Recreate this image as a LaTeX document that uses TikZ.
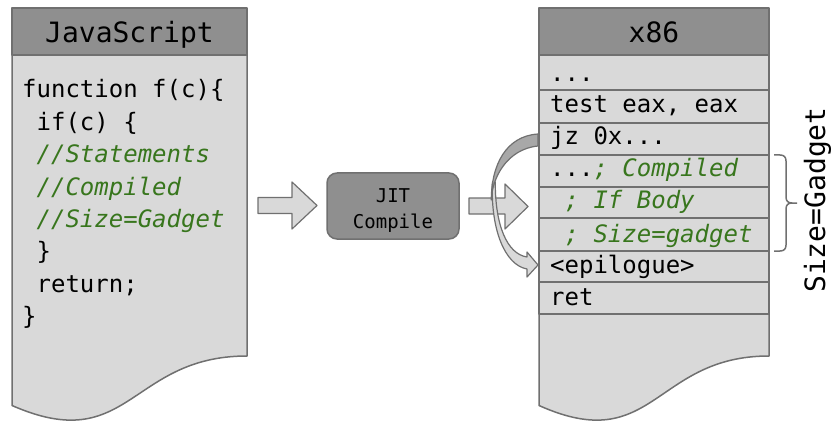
\documentclass[tikz,border=0pt]{standalone}
\usepackage{fontspec}
\newfontfamily\cons{DejaVu Sans Mono}[ItalicFont=* Oblique]
\definecolor{hdr}{RGB}{143,143,143}
\definecolor{panel}{RGB}{217,217,217}
\definecolor{edge}{RGB}{112,112,112}
\definecolor{cmt}{RGB}{56,118,29}
\definecolor{backface}{RGB}{168,168,168}
\frenchspacing
\begin{document}
\begin{tikzpicture}[x=1pt,y=-1pt,line join=round,
  docbox/.style={fill=panel,draw=edge,line width=1.5pt},
  hdrbox/.style={fill=hdr,draw=edge,line width=1.5pt},
  rowbox/.style={fill=panel,draw=edge,line width=1.5pt},
  blockarrow/.style={fill=panel,draw=edge,line width=1.2pt},
  code/.style={font=\cons\fontsize{24}{24}\selectfont,anchor=base west,inner sep=0pt},
  title/.style={font=\cons\fontsize{28}{28}\selectfont,anchor=base,inner sep=0pt},
  small/.style={font=\cons\fontsize{19}{19}\selectfont,anchor=base,inner sep=0pt},
  note/.style={text=cmt,font=\cons\itshape\fontsize{24}{24}\selectfont}]
\useasboundingbox (0,0) rectangle (833,425);

% JavaScript source page
\draw[docbox] (12,55) -- (247,55) -- (247,356)
  .. controls (129.5,356) and (129.5,457) .. (12,405.5) -- cycle;
\draw[hdrbox] (12,8) rectangle (247,55);
\node[title] (jstitle) at (129.5,43) {JavaScript};
\node[code] (j1) at (22,98)    {function f(c)\{};
\node[code] (j2) at (22,130.5) {\ if(c) \{};
\node[code] (j3) at (22,163)   {\ {\color{cmt}\itshape //Statements}};
\node[code] (j4) at (22,195)   {\ {\color{cmt}\itshape //Compiled}};
\node[code] (j5) at (22,227)   {\ {\color{cmt}\itshape //Size=Gadget}};
\node[code] (j6) at (22,259.5) {\ \}};
\node[code] (j7) at (22,292)   {\ return;};
\node[code] (j8) at (22,324)   {\}};

% x86 output page
\draw[docbox] (539,55) -- (769,55) -- (769,356)
  .. controls (654,356) and (654,457) .. (539,405.5) -- cycle;
\draw[hdrbox] (539,8) rectangle (769,55);
\node[title] (xtitle) at (654,43) {x86};
\foreach \top/\bot in {55/90,90/123,123/155,155/187,187/218,218/251,251/282,282/314}
  \draw[rowbox] (539,\top) rectangle (769,\bot);
\node[code] (x1) at (550,82)  {...};
\node[code] (x2) at (550,113) {test eax, eax};
\node[code] (x3) at (550,145) {jz 0x...};
\node[code] (x4) at (550,177) {...{\color{cmt}\itshape ; Compiled}};
\node[code] (x5) at (550,208) {\ {\color{cmt}\itshape ; If Body}};
\node[code] (x6) at (550,242) {\ {\color{cmt}\itshape ; Size=gadget}};
\node[code] (x7) at (550,273) {<epilogue>};
\node[code] (x8) at (550,305) {ret};

% JIT compiler box
\node[hdrbox,rounded corners=10pt,minimum width=132pt,minimum height=66pt,inner sep=0pt]
  (jit) at (393,206) {};
\node[small] (jitA) at (jit.center |- 0,202) {JIT};
\node[small] (jitB) at (jit.center |- 0,228) {Compile};

% block arrows between the stages
\draw[blockarrow] (258,197.5) -- (292,197.5) -- (292,182) -- (317,205.5)
  -- (292,229) -- (292,213.5) -- (258,213.5) -- cycle;
\draw[blockarrow] (469,198) -- (505,198) -- (505,184) -- (528,206.5)
  -- (505,229) -- (505,214) -- (469,214) -- cycle;

% curved jump arrow: jz skips the if body
\draw[fill=panel,draw=edge,line width=1.2pt]
  (492.4,182) .. controls (490.5,230) and (505,265) .. (527,269)
  -- (527,277) -- (538,265) -- (527,252) -- (527,257)
  .. controls (507,254) and (495,225) .. (495.3,182) -- cycle;
\draw[fill=backface,draw=edge,line width=1.2pt]
  (538,134) .. controls (506,136) and (491.3,165) .. (491.3,200)
  .. controls (492,178) and (507,149) .. (538,146) -- cycle;

% brace over the compiled body
\draw[draw=edge,line width=1.5pt]
  (774,155) -- (780,155) .. controls (784,155) and (786,157) .. (786,161)
  -- (786,197) .. controls (786,201) and (788,203) .. (792,203) -- (797,203);
\draw[draw=edge,line width=1.5pt]
  (792,203) .. controls (788,203) and (786,205) .. (786,209)
  -- (786,245) .. controls (786,249) and (784,251) .. (780,251) -- (774,251);
\node[title,rotate=90] (gadget) at (825,200) {Size=Gadget};
\end{tikzpicture}
\end{document}
